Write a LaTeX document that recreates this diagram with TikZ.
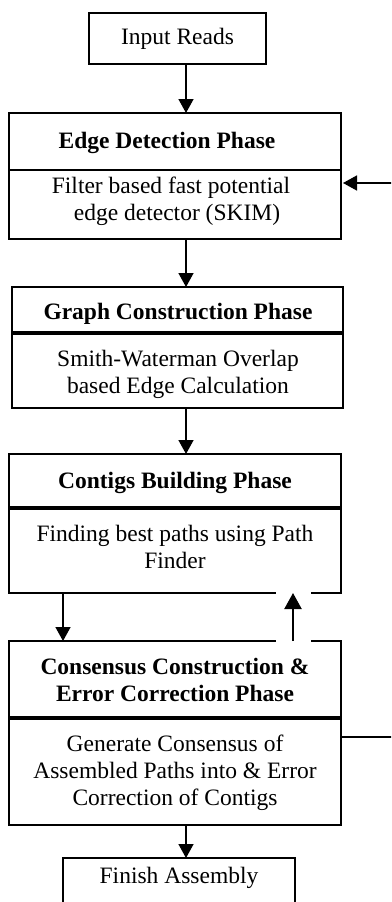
\documentclass[tikz,border=0pt]{standalone}
\usepackage{fontspec}
\setmainfont{Liberation Serif}
\usetikzlibrary{arrows.meta}
\begin{document}
\begin{tikzpicture}[x=1pt,y=-1pt,
  box/.style={draw, line width=1.5pt, inner sep=0pt, outer sep=0pt, anchor=north west},
  txt/.style={anchor=base, inner sep=0pt, font=\fontsize{23.5pt}{26.7pt}\selectfont},
  btxt/.style={anchor=base, inner sep=0pt, font=\fontsize{23.5pt}{26.7pt}\selectfont\bfseries},
  arr/.style={line width=1.5pt, -{Triangle[width=15pt,length=14pt]}},
  uparr/.style={line width=2.2pt, -{Triangle[width=17pt,length=16pt]}},
]
\useasboundingbox (0,0) rectangle (391,902);
\clip (0,0) rectangle (391,902);
% boxes
\node[box, minimum width=177pt, minimum height=51pt] (inp) at (89,13) {};
\node[box, minimum width=332pt, minimum height=57pt] (eh) at (9,113) {};
\node[box, minimum width=332pt, minimum height=69pt] (eb) at (9,170) {};
\node[box, minimum width=331pt, minimum height=45pt] (gh) at (12,287) {};
\node[box, minimum width=331pt, minimum height=74pt] (gb) at (12,334) {};
\node[box, minimum width=332pt, minimum height=53pt] (ch) at (9,454) {};
\node[box, minimum width=332pt, minimum height=84pt] (cb) at (9,509) {};
\node[box, minimum width=332pt, minimum height=76pt] (sh) at (9,641) {};
\node[box, minimum width=332pt, minimum height=106pt] (sb) at (9,719) {};
\node[box, minimum width=232pt, minimum height=70pt] (fin) at (63,858) {};
% texts
\node[txt] (t1) at (177.5,44.3) {Input Reads};
\node[btxt] (t2) at (167,148) {Edge Detection Phase};
\node[txt] (t3) at (171,193.3) {Filter based fast potential};
\node[txt] (t4) at (177,220) {edge detector (SKIM)};
\node[btxt] (t5) at (178,319) {Graph Construction Phase};
\node[txt] (t6) at (178,366.7) {Smith-Waterman Overlap};
\node[txt] (t7) at (178,393.3) {based Edge Calculation};
\node[btxt] (t8) at (175,488) {Contigs Building Phase};
\node[txt] (t9) at (175,541.7) {Finding best paths using Path};
\node[txt] (t10) at (175,568.3) {Finder};
\node[btxt] (t11) at (175,674) {Consensus Construction \&};
\node[btxt] (t12) at (175,701.7) {Error Correction Phase};
\node[txt] (t13) at (175,751.7) {Generate Consensus of};
\node[txt] (t14) at (175,778.3) {Assembled Paths into \& Error};
\node[txt] (t15) at (175,805) {Correction of Contigs};
\node[txt] (t16) at (179,883.7) {Finish Assembly};
% guide coordinates
\coordinate (ax) at (186,0);
\coordinate (lx) at (63,0);
\coordinate (rx) at (293,0);
\coordinate (fbl) at (420,737);
\coordinate (fbu) at (420,183);
% gaps around the up arrow
\fill[white] (276,590) rectangle (311,596);
\fill[white] (276,638) rectangle (311,644);
% connectors
\draw[arr] (inp.south -| ax) -- (eh.north -| ax);
\draw[arr] (eb.south -| ax) -- (gh.north -| ax);
\draw[arr] (gb.south -| ax) -- (ch.north -| ax);
\draw[arr] (cb.south -| lx) -- (sh.north -| lx);
\draw[uparr] (sh.north -| rx) -- (cb.south -| rx);
\draw[arr] (sb.south -| ax) -- (fin.north -| ax);
\draw[arr] (sb.east |- fbl) -- (fbl) -- (fbu) -- ([xshift=2pt]eb.east |- fbu);
\end{tikzpicture}
\end{document}
